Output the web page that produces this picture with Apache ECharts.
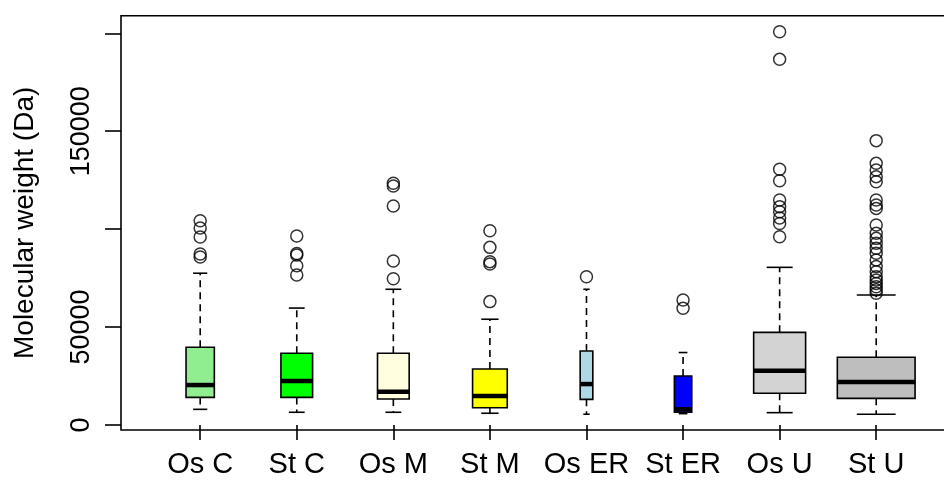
<!DOCTYPE html>
<html>
<head>
<meta charset="utf-8">
<script src="https://cdn.jsdelivr.net/npm/echarts@6/dist/echarts.min.js"></script>
<style>
  html, body { margin: 0; padding: 0; background: #fff; }
  #chart-container { width: 944px; height: 482px; }
</style>
</head>
<body>
<div id="chart-container"></div>
<script>
// Box plot of molecular weights per group
const categories = ['Os C', 'St C', 'Os M', 'St M', 'Os ER', 'St ER', 'Os U', 'St U'];

// five-number summaries (Da)
const whiskerLow  = [8000, 6500, 6500, 6000, 5500, 5800, 6300, 5500];
const lowerQ      = [14100, 14100, 13300, 8800, 13100, 6500, 16200, 13600];
const medians     = [20400, 22500, 17000, 14800, 20900, 8000, 27700, 22000];
const upperQ      = [39700, 36600, 36600, 28600, 37800, 25000, 47300, 34600];
const whiskerHigh = [77500, 59700, 69300, 54000, 69300, 37000, 80500, 66400];

// outliers per group
const outliers = [
  [104300, 100600, 96000, 87300, 85800],
  [96500, 87600, 86800, 81300, 76600],
  [123400, 122000, 111800, 83700, 74700],
  [99200, 90700, 83400, 82200, 63000],
  [75700],
  [63800, 59600],
  [200800, 186700, 130600, 124700, 114900, 111500, 108900, 105700, 102900, 96100],
  [145200, 133600, 130200, 126800, 124200, 114900, 112300, 110600, 102100, 97900,
   95300, 92800, 90200, 87700, 84300, 80900, 78300, 75700, 74000, 72300, 70600, 69000, 67300]
];

// tick marks, and the ones that carry a label (R drops overlapping ones)
const yTicks = [0, 50000, 100000, 150000, 200000];
const yTickLabels = [0, 50000, 150000];

// --- styling ---
const boxColors = ['#90EE90', '#00FF00', '#FFFFE0', '#FFFF00', '#ADD8E6', '#0000FF', '#D3D3D3', '#BEBEBE'];
// relative box widths (varwidth style), in x-axis units
const boxWidths = [0.293, 0.328, 0.328, 0.359, 0.131, 0.18, 0.538, 0.805];
const FONT = "'Liberation Sans', Arial, sans-serif";
const LW = 1.6;

const positions = categories.map((c, i) => i + 1);

const boxData = categories.map((c, i) =>
  [positions[i], whiskerLow[i], lowerQ[i], medians[i], upperQ[i], whiskerHigh[i]]);

const outlierData = [];
outliers.forEach((vals, i) => vals.forEach(v => outlierData.push([positions[i], v])));

function renderBox(params, api) {
  const i = params.dataIndex;
  const x = api.value(0);
  const half = boxWidths[i] / 2;
  const lo = api.coord([x, api.value(1)]);
  const q1L = api.coord([x - half, api.value(2)]);
  const q3R = api.coord([x + half, api.value(4)]);
  const medL = api.coord([x - half, api.value(3)]);
  const medR = api.coord([x + half, api.value(3)]);
  const hi = api.coord([x, api.value(5)]);
  const q1 = api.coord([x, api.value(2)]);
  const q3 = api.coord([x, api.value(4)]);
  const capHalf = (q3R[0] - q1L[0]) / 4;
  const lineStyle = { stroke: '#000', lineWidth: LW };

  return {
    type: 'group',
    children: [
      { type: 'line', shape: { x1: q3[0], y1: q3[1], x2: hi[0], y2: hi[1] },
        style: Object.assign({ lineDash: [7, 5] }, lineStyle) },
      { type: 'line', shape: { x1: q1[0], y1: q1[1], x2: lo[0], y2: lo[1] },
        style: Object.assign({ lineDash: [7, 5] }, lineStyle) },
      { type: 'line', shape: { x1: hi[0] - capHalf, y1: hi[1], x2: hi[0] + capHalf, y2: hi[1] },
        style: lineStyle },
      { type: 'line', shape: { x1: lo[0] - capHalf, y1: lo[1], x2: lo[0] + capHalf, y2: lo[1] },
        style: lineStyle },
      { type: 'rect',
        shape: { x: q1L[0], y: q3R[1], width: q3R[0] - q1L[0], height: q1L[1] - q3R[1] },
        style: { fill: boxColors[i], stroke: '#000', lineWidth: LW } },
      { type: 'line', shape: { x1: medL[0], y1: medL[1], x2: medR[0], y2: medR[1] },
        style: { stroke: '#000', lineWidth: 4.5 } }
    ]
  };
}

const chart = echarts.init(document.getElementById('chart-container'), null, { renderer: 'canvas' });

chart.setOption({
  animation: false,
  backgroundColor: '#fff',
  grid: {
    left: 121, top: 15.7, width: 834.4, height: 414.3,
    outerBoundsMode: 'none', containLabel: false,
    show: true, borderColor: '#000', borderWidth: LW, backgroundColor: 'transparent'
  },
  xAxis: {
    type: 'value', min: 0.18, max: 8.82,
    axisLine: { show: false },
    splitLine: { show: false },
    axisTick: { show: true, customValues: positions, length: 15, lineStyle: { color: '#000', width: LW } },
    axisLabel: {
      customValues: positions,
      formatter: v => categories[Math.round(v) - 1],
      fontSize: 29, fontFamily: FONT, color: '#000', margin: 20
    }
  },
  yAxis: {
    type: 'value', min: -2553, max: 208986,
    name: 'Molecular weight (Da)',
    nameLocation: 'middle', nameRotate: 90, nameGap: 82,
    nameTextStyle: { fontSize: 28, fontFamily: FONT, color: '#000' },
    axisLine: { show: false },
    splitLine: { show: false },
    axisTick: { show: true, customValues: yTicks, length: 16, lineStyle: { color: '#000', width: LW } },
    axisLabel: {
      customValues: yTickLabels, rotate: 90,
      formatter: v => String(v),
      fontSize: 27, fontFamily: FONT, color: '#000', margin: 26
    }
  },
  series: [
    {
      type: 'custom',
      name: 'boxes',
      renderItem: renderBox,
      encode: { x: 0, y: [1, 2, 3, 4, 5] },
      data: boxData,
      z: 2
    },
    {
      type: 'scatter',
      name: 'outliers',
      data: outlierData,
      symbol: 'circle',
      symbolSize: 12,
      itemStyle: { color: 'rgba(0,0,0,0)', borderColor: '#000', borderWidth: 1.5 },
      z: 3
    }
  ]
});
</script>
</body>
</html>
